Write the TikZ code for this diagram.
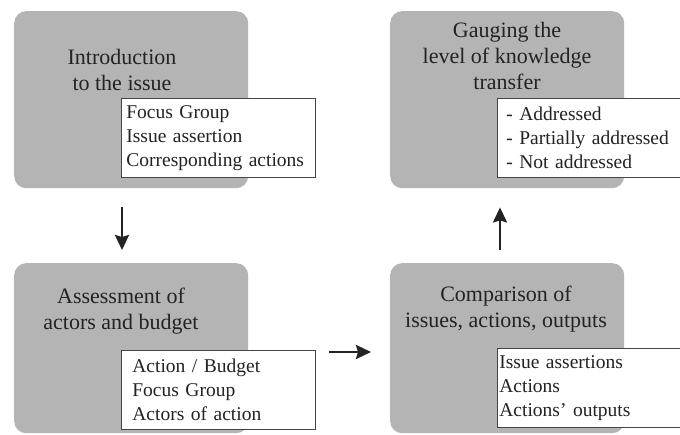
\documentclass[tikz,border=0pt]{standalone}
\usepackage{fontspec}
\setmainfont{Liberation Serif}
\usepackage{xcolor}
\usetikzlibrary{arrows.meta, calc}
\definecolor{boxgray}{RGB}{180,180,180}
\definecolor{ink}{RGB}{35,35,35}
\tikzset{
    stage/.style={rectangle, rounded corners=12pt, fill=boxgray, minimum width=234pt, anchor=north west},
    title/.style={align=center, text=ink, font=\fontsize{22}{26}\selectfont},
    listbox/.style={rectangle, draw=ink!85, line width=0.8pt, fill=white, anchor=north west, minimum height=79pt, inner xsep=5pt, align=left, text=ink, font=\fontsize{19.5}{24}\selectfont},
    arrow/.style={-{Stealth[length=15pt, width=14pt, inset=2pt]}, line width=2.6pt, draw=ink}
}

\begin{document}
\begin{tikzpicture}[x=1pt, y=-1pt]
    \fill[white] (0,0) rectangle (680,434);
    \useasboundingbox (0,0) rectangle (680,434);
    % the four stages
    \node[stage, minimum height=177pt] (intro) at (14,11) {};
    \node[stage, minimum height=177pt] (gauge) at (390,11) {};
    \node[stage, minimum height=170pt] (assess) at (14,263) {};
    \node[stage, minimum height=170pt] (compare) at (390,263) {};
    % titles
    \node[title] (introtitle) at (122,70) {Introduction\\to the issue};
    \node[title] (gaugetitle) at (507,56) {Gauging the\\level of knowledge\\transfer};
    \node[title] (assesstitle) at (121,311) {Assessment of\\actors and budget};
    \node[title] (comparetitle) at (506,309) {Comparison of\\issues, actions, outputs};
    % lists
    \node[listbox, text width=184pt] (introlist) at (121,98) {Focus Group\\Issue assertion\\Corresponding actions};
    \node[listbox, text width=190pt, inner xsep=9pt] (gaugelist) at (497,98) {- Addressed\\- Partially addressed\\- Not addressed};
    \node[listbox, text width=172pt, inner xsep=11pt] (assesslist) at (121,350) {Action / Budget\\Focus Group\\Actors of action};
    \node[listbox, text width=196pt, inner xsep=2pt] (comparelist) at (497,348) {Issue assertions\\Actions\\Actions' outputs};
    % flow
    \draw[arrow, shorten <=19pt, shorten >=13pt] (introtitle |- intro.south) -- (introtitle |- assess.north);
    \draw[arrow, shorten <=13pt, shorten >=19pt] ([yshift=-2pt]assesslist.north east) -- ([yshift=-2pt]assesslist.north east -| compare.west);
    \draw[arrow, shorten <=13pt, shorten >=19pt] ([xshift=-7pt]gaugetitle |- compare.north) -- ([xshift=-7pt]gaugetitle |- gauge.south);
\end{tikzpicture}
\end{document}
